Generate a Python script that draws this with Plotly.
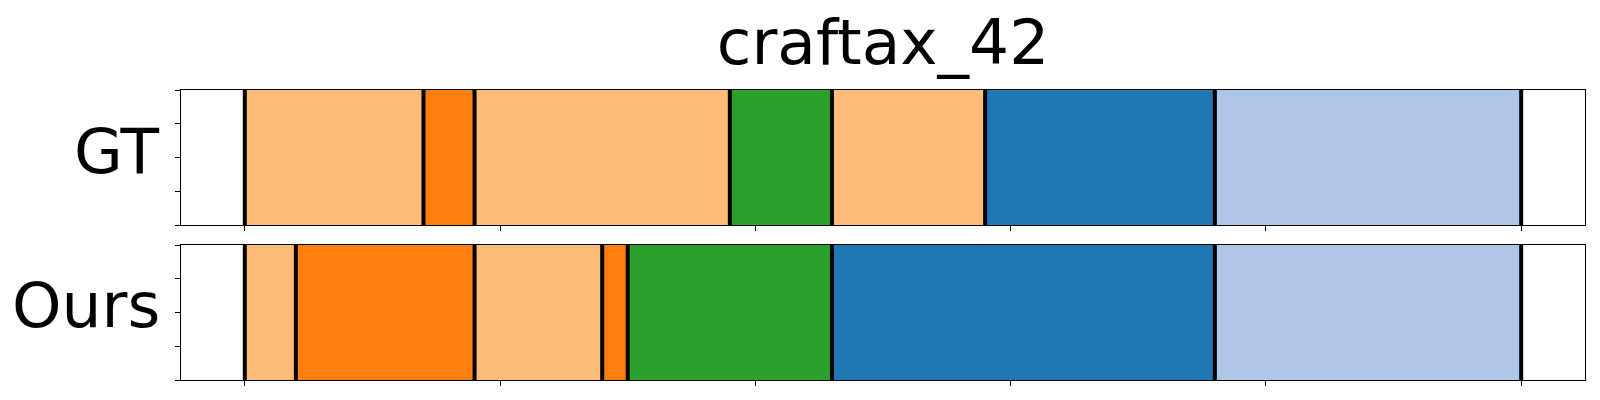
import plotly.graph_objects as go

# Segment data (time steps); ticks at 0..250 step 50
rows = ["GT", "Ours"]
gt_starts = [0, 35, 45, 95, 115, 145, 190]
gt_ends = [35, 45, 95, 115, 145, 190, 250]
gt_labels = ["a", "b", "a", "c", "a", "d", "e"]
ours_starts = [0, 10, 45, 70, 75, 115, 190]
ours_ends = [10, 45, 70, 75, 115, 190, 250]
ours_labels = ["a", "b", "a", "b", "c", "d", "e"]
label_colors = {"a": "#ffbb78", "b": "#ff7f0e", "c": "#2ca02c", "d": "#1f77b4", "e": "#aec7e8"}
x_ticks = [0, 50, 100, 150, 200, 250]
title = "craftax_42"

FONT = "DejaVu Sans"
fig = go.Figure()

series = [(gt_starts, gt_ends, gt_labels), (ours_starts, ours_ends, ours_labels)]
for i, (starts, ends, labels) in enumerate(series):
    ax = "" if i == 0 else "2"
    fig.add_trace(go.Bar(
        orientation="h",
        base=starts,
        x=[e - s for s, e in zip(starts, ends)],
        y=[0.5] * len(starts),
        width=1.0,
        marker=dict(color=[label_colors[l] for l in labels], line=dict(width=0)),
        xaxis="x" + ax, yaxis="y" + ax,
        showlegend=False, hoverinfo="skip",
    ))
    bx, by = [], []
    for b in starts + [ends[-1]]:
        bx += [b, b, None]
        by += [0, 1, None]
    fig.add_trace(go.Scatter(
        x=bx, y=by, mode="lines",
        line=dict(color="black", width=4),
        xaxis="x" + ax, yaxis="y" + ax,
        showlegend=False, hoverinfo="skip",
    ))

axis_common = dict(
    showline=True, linecolor="black", linewidth=1.2, mirror=True,
    showgrid=False, zeroline=False, ticks="outside", ticklen=5,
    tickwidth=1, tickcolor="black", showticklabels=False,
)
fig.update_layout(
    width=1592, height=392,
    margin=dict(l=173, r=15, t=82, b=20),
    paper_bgcolor="white", plot_bgcolor="white",
    font=dict(family=FONT, color="black"),
    barmode="overlay",
    title=dict(
        text=title, x=0.5, xref="paper", xanchor="center",
        y=1, yref="paper", yanchor="bottom", pad=dict(b=26),
        font=dict(family=FONT, size=63, color="black"),
    ),
    xaxis=dict(domain=[0, 1], range=[-12.5, 262.5], tickvals=x_ticks, anchor="y", **axis_common),
    yaxis=dict(domain=[0.5345, 1], range=[0, 1], tickvals=[0, 0.25, 0.5, 0.75, 1], anchor="x", **axis_common),
    xaxis2=dict(domain=[0, 1], range=[-12.5, 262.5], tickvals=x_ticks, anchor="y2", **axis_common),
    yaxis2=dict(domain=[0, 0.4655], range=[0, 1], tickvals=[0, 0.25, 0.5, 0.75, 1], anchor="x2", **axis_common),
)

label_shifts = {"GT": (-19, 6), "Ours": (-19, 7)}
annotations = []
for i, name in enumerate(rows):
    yref = "y domain" if i == 0 else "y2 domain"
    xs, ys = label_shifts[name]
    annotations.append(dict(
        text=name, xref="paper", yref=yref, x=0, y=0.5,
        xanchor="right", yanchor="middle", xshift=xs, yshift=ys,
        showarrow=False, font=dict(family=FONT, size=63, color="black"),
    ))
fig.update_layout(annotations=annotations)

fig.write_html("out.html")
